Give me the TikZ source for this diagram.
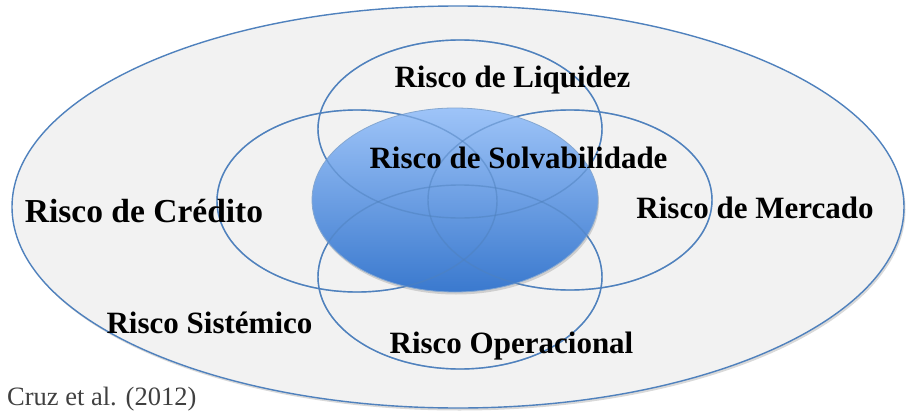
\documentclass[tikz,border=0pt]{standalone}
\usepackage{fontspec}
\setmainfont{Liberation Serif}
\usetikzlibrary{shadows}
\definecolor{ringblue}{RGB}{79,129,189}
\definecolor{coretop}{RGB}{158,196,248}
\definecolor{corebot}{RGB}{58,121,206}
\definecolor{fieldgray}{RGB}{242,242,242}
\definecolor{captiongray}{RGB}{64,64,64}
\tikzset{
	ring/.style={draw=ringblue, line width=1.4pt},
	risklbl/.style={font=\bfseries\fontsize{31}{31}\selectfont, anchor=base, inner sep=0pt},
}
\newcommand\drawrings[1]{%
	\draw[ring,#1] (460,129) ellipse [x radius=142, y radius=89];
	\draw[ring,#1] (357,201) ellipse [x radius=140, y radius=91];
	\draw[ring,#1] (570,200) ellipse [x radius=142, y radius=90];
	\draw[ring,#1] (460,277) ellipse [x radius=142, y radius=92];}

\begin{document}
\begin{tikzpicture}[x=1pt,y=-1pt]
		%%%%% START %%%%%
		\useasboundingbox (0,0) rectangle (907,412);
		
		\draw[ring, fill=fieldgray, drop shadow={shadow xshift=1.5pt, shadow yshift=-2.5pt, opacity=0.3}] (458,207) ellipse [x radius=446, y radius=201];
		
		\drawrings{}
		
		\shade[top color=coretop, bottom color=corebot, drop shadow={shadow xshift=1pt, shadow yshift=-2.5pt, opacity=0.3}] (455,200) ellipse [x radius=143, y radius=92];
		\draw[draw=ringblue!70, line width=0.8pt] (455,200) ellipse [x radius=143, y radius=92];
		
		\drawrings{opacity=0.5}
		
		\node[risklbl] (liquidez) at (512.5,87) {Risco de Liquidez};
		\node[risklbl] (solvabilidade) at (518.5,168) {Risco de Solvabilidade};
		\node[risklbl, font=\bfseries\fontsize{33.5}{34}\selectfont] (credito) at (144,222) {Risco de Crédito};
		\node[risklbl] (mercado) at (755,218) {Risco de Mercado};
		\node[risklbl] (sistemico) at (209.5,333) {Risco Sistémico};
		\node[risklbl] (operacional) at (511.5,353) {Risco Operacional};
		
		\node[anchor=base west, inner sep=0pt, text=captiongray, font=\fontsize{26.5}{27}\selectfont] (fonte) at (7,405) {Cruz et al. (2012)};
		
		%%%%% END %%%%%
\end{tikzpicture}
\end{document}
